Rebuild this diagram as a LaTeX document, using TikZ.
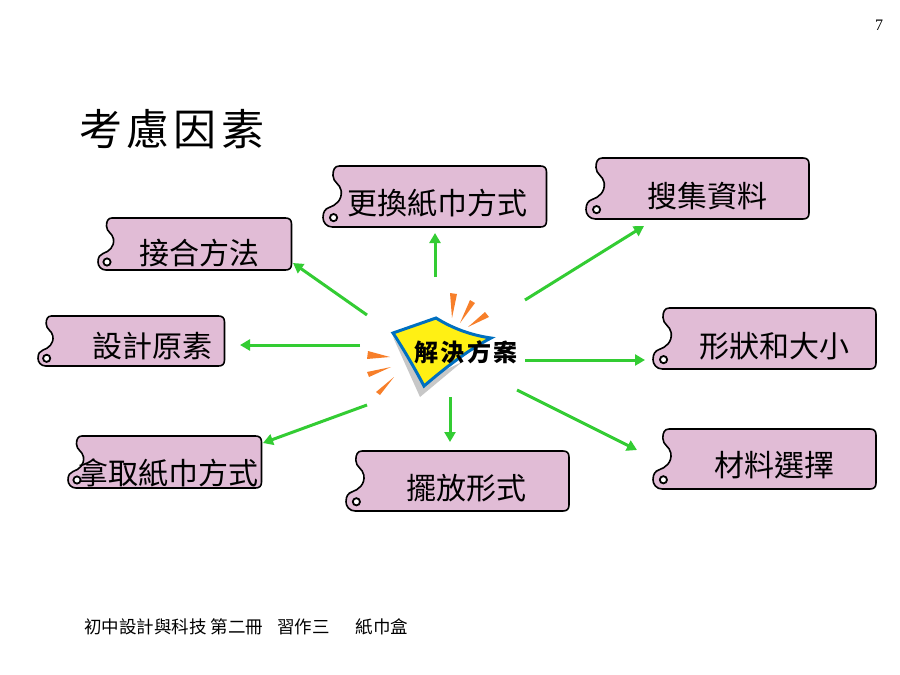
\documentclass[tikz,border=0pt]{standalone}
\usepackage{fontspec}
\usepackage{tikz}
\usetikzlibrary{arrows.meta}
\setmainfont{Liberation Serif}
\newfontfamily\cjk{Noto Sans CJK TC}
\newfontfamily\cjktitle[LetterSpace=10]{Noto Sans CJK TC}
\newfontfamily\cjkicon[LetterSpace=10]{Noto Sans CJK TC}

\definecolor{tagpink}{RGB}{225,188,214}
\definecolor{arrowgreen}{RGB}{51,204,51}
\definecolor{rayorange}{RGB}{247,127,42}
\definecolor{iconblue}{RGB}{0,112,192}
\definecolor{iconyellow}{RGB}{255,240,20}

\tikzset{
    tagshape/.style={draw=black, fill=tagpink, line width=1.6pt},
    taghole/.style={draw=black, fill=white, line width=1.8pt},
    taglabel/.style={font=\cjk\fontsize{30}{30}\selectfont, inner sep=0pt},
    link/.style={draw=arrowgreen, line width=3pt, -{Triangle[length=10pt,width=11pt]}},
    ray/.style={fill=rayorange, draw=none}
}

% x0, y0, x1, y1, node name, text x, text y, text
\newcommand{\tagbox}[8]{
    \pgfmathsetmacro\tagh{(#4-#2)/52}
    \draw[tagshape] (#1+14*\tagh,#2) -- (#3-6,#2)
        .. controls (#3-2,#2) and (#3,#2+2) .. (#3,#2+6) -- (#3,#4-6)
        .. controls (#3,#4-2) and (#3-2,#4) .. (#3-6,#4) -- (#1+8*\tagh,#4)
        .. controls (#1+3*\tagh,#4) and (#1,#2+48*\tagh) .. (#1,#2+44*\tagh)
        .. controls (#1,#2+39*\tagh) and (#1+2*\tagh,#2+36.5*\tagh) .. (#1+5*\tagh,#2+35.5*\tagh)
        .. controls (#1+11*\tagh,#2+33.5*\tagh) and (#1+16.5*\tagh,#2+29*\tagh) .. (#1+15.5*\tagh,#2+21*\tagh)
        .. controls (#1+14.5*\tagh,#2+15*\tagh) and (#1+8.5*\tagh,#2+14*\tagh) .. (#1+8.5*\tagh,#2+8*\tagh)
        .. controls (#1+8.5*\tagh,#2+3*\tagh) and (#1+10*\tagh,#2) .. (#1+14*\tagh,#2) -- cycle;
    \draw[taghole] (#1+9*\tagh,#2+44*\tagh) circle (3.6);
    \node[taglabel] at (#6,#7) (#5) {#8};
}

\begin{document}
\begin{tikzpicture}[x=1pt, y=-1pt]
    \useasboundingbox (0,0) rectangle (900,675);

    \node[inner sep=0pt, font=\fontsize{16}{16}\selectfont] at (879,25) (pagenum) {7};
    \node[inner sep=0pt, anchor=west, font=\cjktitle\fontsize{43}{43}\selectfont] at (79,129) (title) {考慮因素};
    \node[inner sep=0pt, anchor=west, font=\cjk\fontsize{17.5}{18}\selectfont] at (84,627) (footer) {初中設計與科技 第二冊\hspace{14pt}習作三\hspace{26pt}紙巾盒};

    % tags
    \tagbox{323}{166}{546.5}{227}{change}{437}{203}{更換紙巾方式}
    \tagbox{586}{158}{809}{219}{collect}{707}{196}{搜集資料}
    \tagbox{98}{218}{291.5}{270}{joint}{199}{253}{接合方法}
    \tagbox{653}{308}{876}{369}{form}{774}{346}{形狀和大小}
    \tagbox{38}{316}{224.5}{366}{element}{152}{346}{設計原素}
    \tagbox{653}{429}{876}{489}{material}{774}{465}{材料選擇}
    \tagbox{68}{436}{261.5}{488}{fetch}{168}{473}{拿取紙巾方式}
    \tagbox{346}{451}{569}{511}{place}{466}{488}{擺放形式}

    % centre icon
    \fill[black!22] (393,337) -- (420,397) -- (462,362) -- (424,380) -- cycle;
    \draw[draw=iconblue, fill=iconyellow, line width=3pt, line join=miter]
        (393,333) -- (436,318) .. controls (452,328) and (470,335) .. (491,338)
        .. controls (468,350) and (445,368) .. (424,386)
        .. controls (414,367) and (404,350) .. (393,333) -- cycle;
    \fill[ray] (450,293) -- (457,294) -- (452,318) -- cycle;
    \fill[ray] (470,300) -- (475,303) -- (460,323) -- cycle;
    \fill[ray] (485,312) -- (489,317) -- (468,327) -- cycle;
    \fill[ray] (368,351) -- (390,357) -- (367,359) -- cycle;
    \fill[ray] (367,372) -- (391,367) -- (369,377) -- cycle;
    \fill[ray] (376,392) -- (394,377) -- (380,395) -- cycle;
    \node[inner sep=0pt, font=\cjkicon\bfseries\fontsize{24}{24}\selectfont] at (466,352) (solution) {解決方案};

    % arrows
    \coordinate (a1) at (435,277);
    \coordinate (b1) at (435,233);
    \coordinate (a2) at (525,300);
    \coordinate (b2) at (644,226);
    \coordinate (a3) at (367,315);
    \coordinate (b3) at (293,263);
    \coordinate (a4) at (360,345);
    \coordinate (b4) at (240,345);
    \coordinate (a5) at (525,360);
    \coordinate (b5) at (645,360);
    \coordinate (a6) at (367,405);
    \coordinate (b6) at (263,443);
    \coordinate (a7) at (450,397);
    \coordinate (b7) at (450,442);
    \coordinate (a8) at (517,390);
    \coordinate (b8) at (637,450);
    \foreach \i in {1,...,8}
        \draw[link] (a\i) -- (b\i);
\end{tikzpicture}
\end{document}
